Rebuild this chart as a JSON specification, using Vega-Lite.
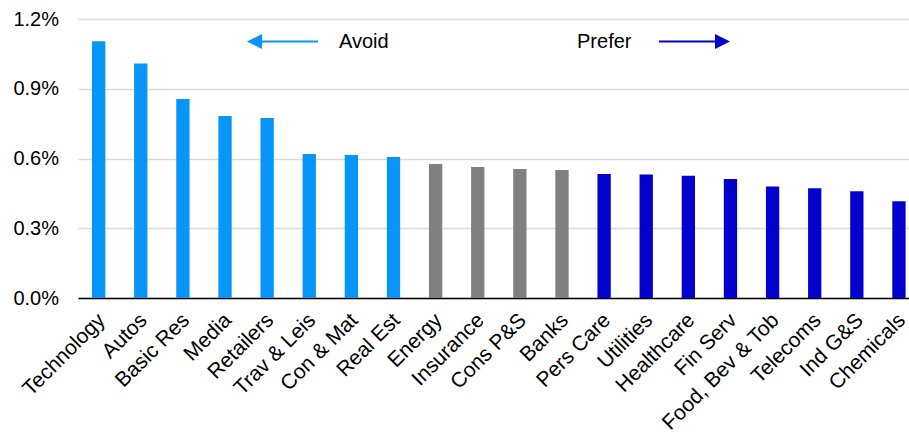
{
  "$schema": "https://vega.github.io/schema/vega-lite/v6.json",
  "width": 831,
  "height": 279,
  "autosize": "none",
  "padding": {"left": 78, "top": 19, "right": 0, "bottom": 138},
  "background": "white",
  "config": {
    "view": {"stroke": null},
    "font": "Liberation Sans",
    "axis": {"labelFont": "Liberation Sans", "labelColor": "black", "labelFontSize": 20}
  },
  "datasets": {
    "sectors": [
      {"sector": "Technology", "group": "Avoid", "value": 0.01104},
      {"sector": "Autos", "group": "Avoid", "value": 0.01009},
      {"sector": "Basic Res", "group": "Avoid", "value": 0.00856},
      {"sector": "Media", "group": "Avoid", "value": 0.00783},
      {"sector": "Retailers", "group": "Avoid", "value": 0.00774},
      {"sector": "Trav & Leis", "group": "Avoid", "value": 0.00619},
      {"sector": "Con & Mat", "group": "Avoid", "value": 0.00615},
      {"sector": "Real Est", "group": "Avoid", "value": 0.00606},
      {"sector": "Energy", "group": "Neutral", "value": 0.00576},
      {"sector": "Insurance", "group": "Neutral", "value": 0.00563},
      {"sector": "Cons P&S", "group": "Neutral", "value": 0.00555},
      {"sector": "Banks", "group": "Neutral", "value": 0.00551},
      {"sector": "Pers Care", "group": "Prefer", "value": 0.00533},
      {"sector": "Utilities", "group": "Prefer", "value": 0.00531},
      {"sector": "Healthcare", "group": "Prefer", "value": 0.00526},
      {"sector": "Fin Serv", "group": "Prefer", "value": 0.00512},
      {"sector": "Food, Bev & Tob", "group": "Prefer", "value": 0.00480},
      {"sector": "Telecoms", "group": "Prefer", "value": 0.00472},
      {"sector": "Ind G&S", "group": "Prefer", "value": 0.00459},
      {"sector": "Chemicals", "group": "Prefer", "value": 0.00416}
    ],
    "arrows": [
      {"group": "Avoid", "text": "Avoid", "tail": 5.207, "head": 3.699, "textAt": 5.705, "level": 0.01103},
      {"group": "Prefer", "text": "Prefer", "tail": 13.302, "head": 14.81, "textAt": 11.356, "level": 0.01103}
    ]
  },
  "layer": [
    {
      "data": {"name": "sectors"},
      "mark": {"type": "bar"},
      "encoding": {
        "x": {
          "field": "sector",
          "type": "nominal",
          "sort": null,
          "scale": {"paddingInner": 0.684, "paddingOuter": 0.2065, "align": 0.805},
          "axis": {
            "title": null,
            "ticks": false,
            "labelAngle": -45,
            "labelAlign": "right",
            "labelBaseline": "top",
            "labelPadding": 11,
            "labelOffset": -4.5,
            "labelFontSize": 21,
            "domainColor": "black",
            "domainWidth": 1.5,
            "grid": false
          }
        },
        "y": {
          "field": "value",
          "type": "quantitative",
          "scale": {"domain": [0, 0.012], "nice": false},
          "axis": {
            "title": null,
            "values": [0, 0.003, 0.006, 0.009, 0.012],
            "format": ".1%",
            "ticks": false,
            "domain": false,
            "labelPadding": 19.5,
            "gridColor": "#d9d9d9",
            "gridWidth": 1.5
          }
        },
        "color": {
          "field": "group",
          "type": "nominal",
          "scale": {"domain": ["Avoid", "Neutral", "Prefer"], "range": ["#0796F8", "#808080", "#0202CC"]},
          "legend": null
        }
      }
    },
    {
      "data": {"name": "arrows"},
      "mark": {"type": "rule", "strokeWidth": 2},
      "encoding": {
        "x": {"field": "tail", "type": "quantitative", "scale": {"domain": [-0.4915, 19.238], "nice": false, "zero": false}, "axis": null},
        "x2": {"field": "head"},
        "y": {"field": "level", "type": "quantitative"},
        "color": {"field": "group", "type": "nominal", "legend": null}
      }
    },
    {
      "data": {"name": "arrows"},
      "mark": {"type": "point", "filled": true, "opacity": 1, "size": 225},
      "encoding": {
        "x": {"field": "head", "type": "quantitative", "scale": {"domain": [-0.4915, 19.238], "nice": false, "zero": false}, "axis": null},
        "y": {"field": "level", "type": "quantitative"},
        "shape": {
          "field": "group",
          "type": "nominal",
          "scale": {"domain": ["Avoid", "Prefer"], "range": ["M -1 0 L 1 -1 L 1 1 Z", "M 1 0 L -1 -1 L -1 1 Z"]},
          "legend": null
        },
        "color": {"field": "group", "type": "nominal", "legend": null}
      }
    },
    {
      "data": {"name": "arrows"},
      "mark": {"type": "text", "align": "left", "baseline": "middle", "fontSize": 20, "font": "Liberation Sans", "color": "black"},
      "encoding": {
        "x": {"field": "textAt", "type": "quantitative", "scale": {"domain": [-0.4915, 19.238], "nice": false, "zero": false}, "axis": null},
        "y": {"field": "level", "type": "quantitative"},
        "text": {"field": "text"}
      }
    }
  ],
  "resolve": {"scale": {"x": "independent"}}
}
